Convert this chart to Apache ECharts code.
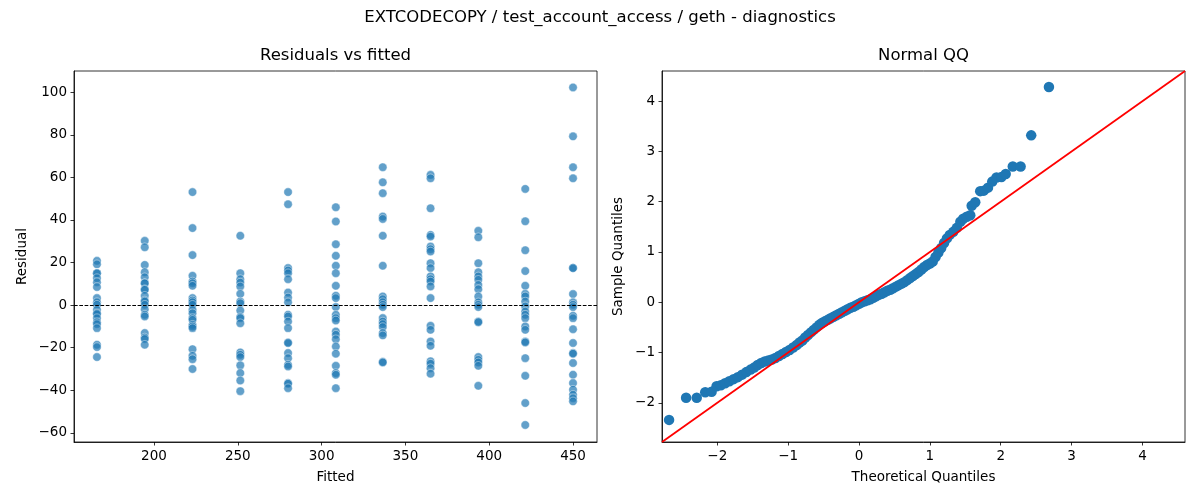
<!DOCTYPE html>
<html>
<head>
<meta charset="utf-8">
<script src="https://cdn.jsdelivr.net/npm/echarts@6/dist/echarts.min.js"></script>
<style>
  html, body { margin: 0; padding: 0; background: #fff; }
  #main { width: 1200px; height: 500px; }
</style>
</head>
<body>
<div id="main"></div>
<script>
// fitted values of each group (left panel columns)
var fitted = [166, 194.5, 223, 251.5, 280, 308.5, 336.5, 365, 393.5, 421.5, 450];

// residuals read per column
var res166 = [20.8, 19.2, 15.0, 15.0, 12.7, 10.8, 8.5, 3.3, 1.4, 0.2, -2.2, -3.8, -4.2, -6.1, -8.0, -8.9, -10.8, -18.6, -19.7, -24.4];
var res194 = [30.2, 27.2, 18.9, 15.5, 13.1, 10.3, 10.3, 7.5, 7.2, 4.4, 2.2, 1.7, 0.2, -1.9, -4.5, -5.3, -13.1, -15.2, -15.9, -18.6];
var res223 = [53.1, 36.2, 23.5, 13.8, 11.1, 10.3, 9.1, 3.3, 2.2, 1.4, 0.2, -2.2, -3.8, -6.1, -6.9, -9.2, -10.0, -10.8, -20.7, -23.8, -25.4, -30.0];
var res251 = [32.6, 15.0, 12.2, 10.6, 8.8, 5.3, 1.7, 0.9, -2.5, -5.6, -6.1, -8.5, -22.2, -23.3, -24.4, -28.3, -31.9, -35.4, -40.4];
var res280 = [53.1, 47.4, 17.4, 16.3, 15.0, 12.2, 5.9, 3.6, 1.3, -4.5, -5.3, -7.7, -10.8, -17.5, -17.8, -22.5, -24.9, -28.0, -28.8, -36.6, -36.9, -39.0];
var res308 = [46.0, 39.3, 28.6, 23.2, 18.5, 15.0, 9.1, 4.4, 3.3, -0.9, -4.5, -6.1, -7.2, -12.4, -13.9, -16.0, -19.4, -22.8, -28.5, -31.9, -32.7, -39.0];
var res336 = [64.8, 57.7, 52.6, 41.6, 40.5, 32.6, 18.5, 4.1, 2.8, 1.4, 0.2, -0.9, -6.1, -7.7, -8.9, -10.3, -13.1, -14.2, -26.6, -26.9];
var res365 = [61.2, 59.6, 45.5, 33.0, 32.2, 27.5, 26.3, 25.2, 19.7, 17.4, 13.5, 12.2, 11.1, 8.8, 3.3, -9.7, -11.6, -17.1, -19.1, -26.4, -27.5, -29.6, -32.2];
var res393 = [34.9, 31.9, 19.7, 15.5, 13.5, 11.9, 9.5, 7.5, 4.1, 1.3, 0.2, -0.9, -7.7, -8.0, -24.4, -25.7, -26.9, -28.5, -37.9];
var res421 = [54.6, 39.4, 25.8, 16.0, 9.1, 5.3, 4.1, 1.7, -0.6, -3.0, -4.5, -6.1, -10.0, -11.6, -17.1, -17.5, -24.9, -33.2, -46.0, -56.3];
var res450 = [102.3, 79.3, 64.8, 59.6, 17.4, 17.4, 5.2, 1.3, 0.2, -0.9, -5.0, -6.1, -11.3, -17.8, -22.5, -22.8, -27.2, -32.7, -36.6, -39.7, -42.1, -43.7, -45.2];
var residuals = [res166, res194, res223, res251, res280, res308, res336, res365, res393, res421, res450];

// normal QQ points, [theoretical, sample]
var qqTheoretical = [-2.68, -2.44, -2.29, -2.17, -2.08, -2.01, -1.95, -1.89, -1.83, -1.77, -1.71, -1.65, -1.59, -1.53, -1.48,
  -1.43, -1.38, -1.33, -1.28, -1.23, -1.18, -1.13, -1.08, -1.03, -0.98, -0.93, -0.88, -0.84, -0.80, -0.76, -0.72, -0.68,
  -0.64, -0.60, -0.56, -0.52, -0.48, -0.44, -0.40, -0.36, -0.32, -0.28, -0.24, -0.20, -0.16, -0.12, -0.08, -0.04, 0.00,
  0.04, 0.08, 0.12, 0.16, 0.20, 0.24, 0.28, 0.32, 0.36, 0.40, 0.44, 0.48, 0.52, 0.56, 0.60, 0.64, 0.68, 0.72, 0.76, 0.80,
  0.84, 0.88, 0.92, 0.96, 1.00, 1.04, 1.08, 1.12, 1.16, 1.20, 1.24, 1.28, 1.33, 1.38, 1.43, 1.47, 1.52, 1.57, 1.59, 1.64,
  1.71, 1.76, 1.82, 1.88, 1.94, 2.01, 2.07, 2.17, 2.28, 2.43, 2.68];
var qqSample = [-2.34, -1.90, -1.90, -1.79, -1.78, -1.67, -1.65, -1.61, -1.57, -1.53, -1.49, -1.44, -1.39, -1.34, -1.30,
  -1.25, -1.21, -1.18, -1.16, -1.14, -1.11, -1.07, -1.03, -0.99, -0.95, -0.90, -0.85, -0.80, -0.76, -0.70, -0.65, -0.60,
  -0.55, -0.50, -0.45, -0.41, -0.38, -0.35, -0.32, -0.29, -0.26, -0.23, -0.20, -0.17, -0.14, -0.11, -0.09, -0.06, -0.03,
  0.00, 0.02, 0.04, 0.06, 0.09, 0.12, 0.15, 0.17, 0.20, 0.23, 0.25, 0.28, 0.31, 0.34, 0.37, 0.40, 0.44, 0.48, 0.52, 0.56,
  0.60, 0.65, 0.70, 0.74, 0.77, 0.81, 0.90, 0.99, 1.08, 1.18, 1.27, 1.34, 1.40, 1.48, 1.60, 1.66, 1.70, 1.73, 1.92, 1.99,
  2.21, 2.22, 2.28, 2.40, 2.48, 2.49, 2.55, 2.70, 2.70, 3.32, 4.28];

// tick labels
var residTicks = [-60, -40, -20, 0, 20, 40, 60, 80, 100];
var fittedTicks = [200, 250, 300, 350, 400, 450];
var qqTicks = [-2, -1, 0, 1, 2, 3, 4];
var qqLimits = [-2.78, 4.6];

var chart = echarts.init(document.getElementById('main'));

var scatterData = [];
fitted.forEach(function (f, i) {
  residuals[i].forEach(function (r) { scatterData.push([f, r]); });
});
var qqData = qqTheoretical.map(function (t, i) { return [t, qqSample[i]]; });

var font = 'DejaVu Sans';
function axisCommon(ticks) {
  return {
    axisLine: { show: true, onZero: false, lineStyle: { color: '#000', width: 0.8 } },
    axisTick: { show: true, inside: false, length: 3.5, lineStyle: { color: '#000', width: 0.8 }, customValues: ticks },
    axisLabel: {
      color: '#000', fontFamily: font, fontSize: 13.5, margin: 7, customValues: ticks,
      formatter: function (v) { return String(v).replace('-', '\u2212'); }
    },
    splitLine: { show: false },
    nameTextStyle: { color: '#000', fontFamily: font, fontSize: 13.5 }
  };
}

var option = {
  animation: false,
  backgroundColor: '#fff',
  graphic: [
    { type: 'text', x: 600, y: 18, style: { text: 'EXTCODECOPY / test_account_access / geth - diagnostics', fill: '#000', font: '16.5px DejaVu Sans', textAlign: 'center', textVerticalAlign: 'middle' } },
    { type: 'text', x: 335.5, y: 56, style: { text: 'Residuals vs fitted', fill: '#000', font: '16.5px DejaVu Sans', textAlign: 'center', textVerticalAlign: 'middle' } },
    { type: 'text', x: 923.5, y: 56, style: { text: 'Normal QQ', fill: '#000', font: '16.5px DejaVu Sans', textAlign: 'center', textVerticalAlign: 'middle' } }
  ],
  grid: [
    { left: 74, top: 71, width: 523, height: 371, show: true, borderColor: '#000', borderWidth: 0.8 },
    { left: 662, top: 71, width: 523, height: 371, show: true, borderColor: '#000', borderWidth: 0.8 }
  ],
  xAxis: [
    Object.assign(axisCommon(fittedTicks), { type: 'value', gridIndex: 0, min: 152.3, max: 464.3, name: 'Fitted', nameLocation: 'middle', nameGap: 28 }),
    Object.assign(axisCommon(qqTicks), { type: 'value', gridIndex: 1, min: qqLimits[0], max: qqLimits[1], name: 'Theoretical Quantiles', nameLocation: 'middle', nameGap: 28 })
  ],
  yAxis: [
    Object.assign(axisCommon(residTicks), { type: 'value', gridIndex: 0, min: -64.3, max: 110, name: 'Residual', nameLocation: 'middle', nameGap: 45 }),
    Object.assign(axisCommon(qqTicks), { type: 'value', gridIndex: 1, min: qqLimits[0], max: qqLimits[1], name: 'Sample Quantiles', nameLocation: 'middle', nameGap: 37 })
  ],
  series: [
    {
      type: 'scatter', xAxisIndex: 0, yAxisIndex: 0, data: scatterData,
      symbolSize: 8.5,
      itemStyle: { color: '#1f77b4', opacity: 0.7, borderColor: '#fff', borderWidth: 0.6 },
      markLine: {
        silent: true, symbol: 'none', label: { show: false },
        lineStyle: { color: '#000', width: 1, type: [3.7, 1.6] },
        data: [{ yAxis: 0 }]
      },
      z: 3
    },
    {
      type: 'scatter', xAxisIndex: 1, yAxisIndex: 1, data: qqData,
      symbolSize: 10.5,
      itemStyle: { color: '#1f77b4', opacity: 1 },
      z: 2
    },
    {
      type: 'line', xAxisIndex: 1, yAxisIndex: 1,
      data: [[qqLimits[0], qqLimits[0]], [qqLimits[1], qqLimits[1]]],
      symbol: 'none', lineStyle: { color: '#ff0000', width: 1.8 },
      z: 4
    }
  ]
};

chart.setOption(option);
</script>
</body>
</html>
